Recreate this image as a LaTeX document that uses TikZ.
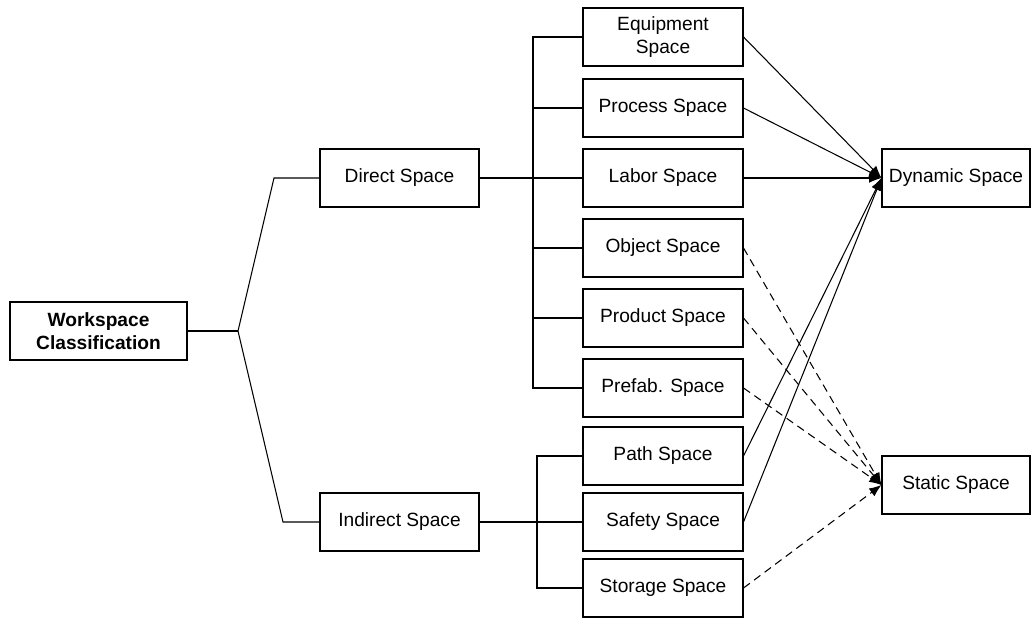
\documentclass[tikz,border=0pt]{standalone}
\usepackage{fontspec}
\setmainfont{Liberation Sans}
\usetikzlibrary{arrows.meta}

\tikzset{
  box/.style={draw, line width=0.6pt, minimum height=1.16cm, align=center,
    inner sep=1pt, font=\fontsize{10.9}{12.8}\selectfont},
  link/.style={line width=0.6pt},
  flow/.style={line width=0.6pt, -{Latex[length=7pt,width=5.5pt]}},
  sflow/.style={flow, dash pattern=on 4.5pt off 3pt}
}

\begin{document}
\begin{tikzpicture}[x=0.02cm,y=-0.02cm]
      \useasboundingbox (0,0) rectangle (1031,618);

      \node[box, minimum width=3.54cm, font=\fontsize{10.9}{12.8}\selectfont\bfseries] (1) at (98.5,331) {Workspace\\Classification};
      \node[box, minimum width=3.18cm] (2) at (399.5,178) {Direct Space};
      \node[box, minimum width=3.18cm] (3) at (399.5,522) {Indirect Space};

      \node[box, minimum width=3.2cm] (4) at (663,37) {Equipment\\Space};
      \node[box, minimum width=3.2cm] (5) at (663,108) {Process Space};
      \node[box, minimum width=3.2cm] (6) at (663,178) {Labor Space};
      \node[box, minimum width=3.2cm] (7) at (663,248) {Object Space};
      \node[box, minimum width=3.2cm] (8) at (663,318) {Product Space};
      \node[box, minimum width=3.2cm] (9) at (663,388) {Prefab. Space};
      \node[box, minimum width=3.2cm] (10) at (663,456) {Path Space};
      \node[box, minimum width=3.2cm] (11) at (663,522) {Safety Space};
      \node[box, minimum width=3.2cm] (12) at (663,588) {Storage Space};

      \node[box, minimum width=2.96cm] (13) at (956,178) {Dynamic Space};
      \node[box, minimum width=2.96cm] (14) at (956,485) {Static Space};

      % tree on the left
      \coordinate (j) at (238,331);
      \coordinate (b1) at (533,178);
      \coordinate (b2) at (537,522);
      \draw[link] (1) -- (j);
      \draw[link] (j) -- (274,178) -- (2);
      \draw[link] (j) -- (283,522) -- (3);

      % buses
      \draw[link] (2) -- (b1);
      \draw[link] (3) -- (b2);
      \foreach \n in {4,...,9}
        \draw[link] (b1) |- (\n);
      \foreach \n in {10,11,12}
        \draw[link] (b2) |- (\n);

      % arrows to the space types
      \foreach \n in {4,5,6,10,11}
        \draw[flow] (\n.east) -- (13.west);
      \foreach \n in {7,8,9,12}
        \draw[sflow] (\n.east) -- (14.west);
    \end{tikzpicture}
\end{document}
